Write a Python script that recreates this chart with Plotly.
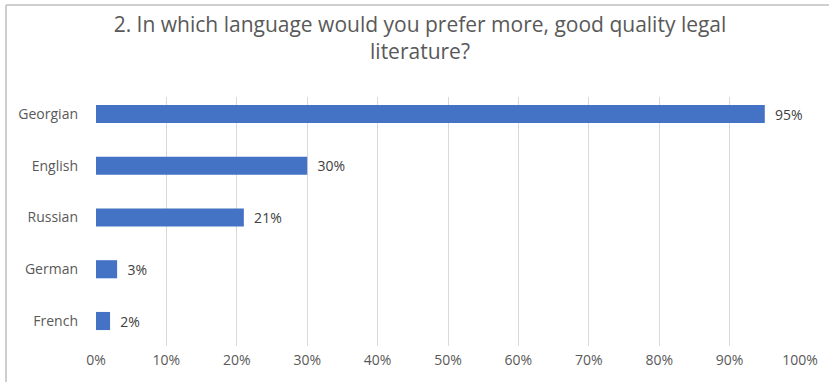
import plotly.graph_objects as go

languages = ["Georgian", "English", "Russian", "German", "French"]
shares = [95, 30, 21, 3, 2]
x_ticks = [0, 10, 20, 30, 40, 50, 60, 70, 80, 90, 100]
x_tick_labels = [f"{v}%" for v in x_ticks]
title_text = "2. In which language would you prefer more, good quality legal<br>literature?"

W, H = 829, 382
L, R, T, B = 96, 29, 97, 36
pw, ph = W - L - R, H - T - B
FONT = "Open Sans, sans-serif"

fig = go.Figure(go.Bar(
    x=shares, y=languages, orientation="h",
    marker=dict(color="#4472C4", line=dict(width=0)),
    width=0.35,
    text=[f"  {v}%" for v in shares], textposition="outside",
    constraintext="none",
    textfont=dict(family=FONT, size=14, color="#404040"),
    cliponaxis=False,
))

bx = (6 - L) / pw
by = 1 + (T - 5) / ph
fig.update_layout(
    width=W, height=H,
    margin=dict(l=L, r=R, t=T, b=B),
    paper_bgcolor="white", plot_bgcolor="white",
    title=dict(text=title_text, x=420 / W, xref="container", xanchor="center",
               y=1 - 32 / H, yref="container", yanchor="top",
               font=dict(family=FONT, size=21, color="#595959")),
    xaxis=dict(range=[0, 100], tickvals=x_ticks, ticktext=x_tick_labels,
               showgrid=True, gridcolor="#d9d9d9", gridwidth=1, zeroline=False,
               showline=False, ticks="", ticklabelstandoff=4,
               tickfont=dict(family=FONT, size=14, color="#595959")),
    yaxis=dict(type="category", categoryorder="array", categoryarray=languages,
               range=[4.483, -0.3285], showgrid=False, zeroline=False, showline=False,
               ticks="", ticklabelstandoff=17,
               tickfont=dict(family=FONT, size=14, color="#595959")),
    showlegend=False,
    shapes=[
        dict(type="line", xref="paper", yref="paper", x0=bx, x1=bx, y0=by, y1=-0.3,
             line=dict(color="#bfbfbf", width=1.5)),
        dict(type="line", xref="paper", yref="paper", x0=bx, x1=1.2, y0=by, y1=by,
             line=dict(color="#bfbfbf", width=1.5)),
    ],
)

fig.write_html("out.html", config={"displayModeBar": False},
               post_script="document.body.style.margin='0';")
